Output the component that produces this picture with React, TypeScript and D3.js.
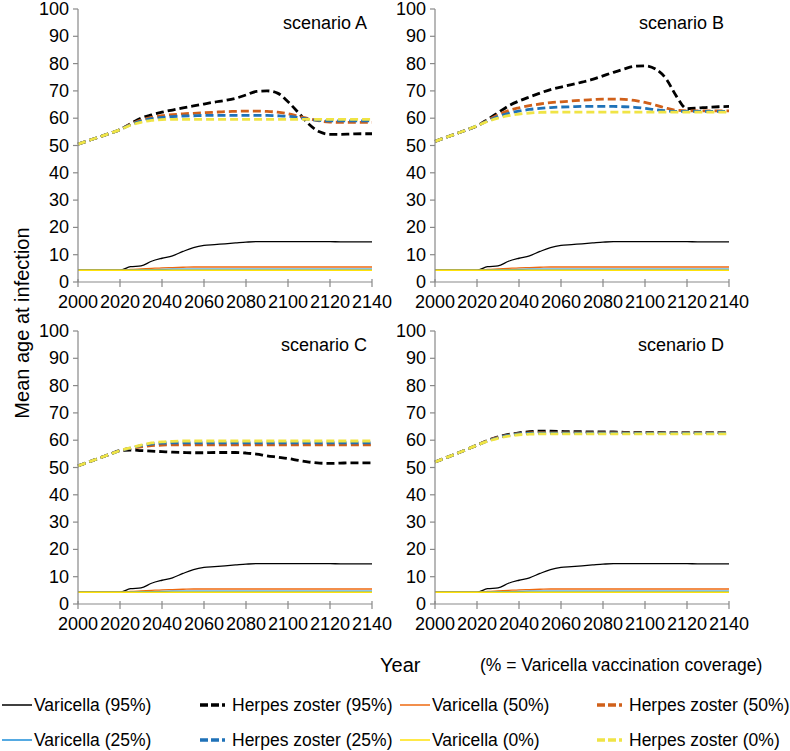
import React from "react";
import * as d3 from "d3";

// ---------- DATA ----------
const years = [2000, 2005, 2010, 2015, 2020, 2025, 2030, 2035, 2040, 2045, 2050, 2055, 2060, 2065, 2070, 2075, 2080, 2085, 2090, 2095, 2100, 2105, 2110, 2115, 2120, 2125, 2130, 2135, 2140];
const xTicks = [2000, 2020, 2040, 2060, 2080, 2100, 2120, 2140];
const yTicks = [0, 10, 20, 30, 40, 50, 60, 70, 80, 90, 100];
const scenarioNames = ["scenario A", "scenario B", "scenario C", "scenario D"];
const seriesNames = ["Varicella (95%)", "Herpes zoster (95%)", "Varicella (50%)", "Herpes zoster (50%)", "Varicella (25%)", "Herpes zoster (25%)", "Varicella (0%)", "Herpes zoster (0%)"];

// Varicella (same in all scenarios)
const varicella95 = [4.3, 4.3, 4.3, 4.3, 4.3, 5.6, 5.9, 7.6, 8.7, 9.6, 11.2, 12.6, 13.4, 13.7, 14.0, 14.3, 14.6, 14.8, 14.8, 14.8, 14.8, 14.8, 14.8, 14.8, 14.8, 14.7, 14.7, 14.7, 14.7];
const varicella50 = [4.3, 4.3, 4.3, 4.3, 4.3, 4.6, 4.8, 5.0, 5.2, 5.3, 5.4, 5.5, 5.5, 5.5, 5.5, 5.5, 5.5, 5.5, 5.5, 5.5, 5.5, 5.5, 5.5, 5.5, 5.5, 5.5, 5.5, 5.5, 5.5];
const varicella25 = [4.3, 4.3, 4.3, 4.3, 4.3, 4.4, 4.5, 4.5, 4.6, 4.7, 4.7, 4.7, 4.7, 4.7, 4.7, 4.7, 4.7, 4.7, 4.7, 4.7, 4.7, 4.7, 4.7, 4.7, 4.7, 4.7, 4.7, 4.7, 4.7];
const varicella0 = [4.3, 4.3, 4.3, 4.3, 4.3, 4.3, 4.3, 4.3, 4.3, 4.3, 4.3, 4.3, 4.3, 4.3, 4.3, 4.3, 4.3, 4.3, 4.3, 4.3, 4.3, 4.3, 4.3, 4.3, 4.3, 4.3, 4.3, 4.3, 4.3];

// Herpes zoster, scenario A
const hzA95 = [50.5, 51.8, 53.1, 54.4, 55.8, 58.0, 60.0, 61.2, 62.2, 63.0, 63.8, 64.5, 65.2, 65.9, 66.5, 67.3, 68.5, 69.8, 70.0, 69.2, 66.0, 62.0, 57.8, 55.0, 54.1, 54.1, 54.2, 54.3, 54.3];
const hzA50 = [50.5, 51.8, 53.1, 54.4, 55.8, 57.8, 59.3, 60.3, 60.9, 61.3, 61.6, 61.8, 62.0, 62.2, 62.4, 62.5, 62.6, 62.6, 62.5, 62.2, 61.6, 60.7, 59.8, 59.0, 58.6, 58.5, 58.5, 58.5, 58.5];
const hzA25 = [50.5, 51.8, 53.1, 54.4, 55.8, 57.6, 58.9, 59.8, 60.3, 60.6, 60.8, 60.9, 61.0, 61.0, 61.0, 61.0, 61.0, 61.0, 61.0, 60.9, 60.7, 60.2, 59.6, 59.2, 59.0, 59.0, 59.0, 59.0, 59.0];
const hzA0 = [50.5, 51.8, 53.1, 54.4, 55.8, 57.4, 58.5, 59.2, 59.5, 59.6, 59.6, 59.6, 59.6, 59.6, 59.6, 59.6, 59.6, 59.6, 59.6, 59.6, 59.6, 59.6, 59.6, 59.6, 59.6, 59.6, 59.6, 59.6, 59.6];

// Herpes zoster, scenario B
const hzB95 = [51.5, 52.9, 54.3, 55.7, 57.2, 59.5, 62.0, 64.5, 66.3, 67.8, 69.2, 70.5, 71.4, 72.3, 73.2, 74.2, 75.5, 76.8, 78.0, 79.0, 79.2, 78.0, 74.5, 68.0, 63.5, 63.7, 64.0, 64.2, 64.3];
const hzB50 = [51.5, 52.9, 54.3, 55.7, 57.2, 59.2, 61.2, 62.8, 63.8, 64.6, 65.2, 65.7, 66.0, 66.3, 66.6, 66.8, 67.0, 67.0, 66.9, 66.5, 65.8, 64.8, 63.7, 62.9, 62.7, 62.7, 62.7, 62.7, 62.7];
const hzB25 = [51.5, 52.9, 54.3, 55.7, 57.2, 59.0, 60.6, 61.8, 62.6, 63.2, 63.6, 63.9, 64.1, 64.2, 64.3, 64.3, 64.3, 64.3, 64.2, 64.0, 63.6, 63.1, 62.7, 62.5, 62.5, 62.5, 62.5, 62.5, 62.5];
const hzB0 = [51.5, 52.9, 54.3, 55.7, 57.2, 58.8, 60.0, 60.9, 61.5, 61.9, 62.1, 62.2, 62.2, 62.2, 62.2, 62.2, 62.2, 62.2, 62.2, 62.2, 62.2, 62.2, 62.2, 62.2, 62.2, 62.2, 62.2, 62.2, 62.2];

// Herpes zoster, scenario C
const hzC95 = [50.6, 52.0, 53.4, 54.8, 56.2, 56.4, 56.2, 56.0, 55.8, 55.6, 55.5, 55.4, 55.4, 55.5, 55.5, 55.5, 55.3, 54.9, 54.3, 53.8, 53.3, 52.6, 52.0, 51.6, 51.5, 51.6, 51.7, 51.7, 51.7];
const hzC50 = [50.6, 52.0, 53.4, 54.8, 56.2, 57.0, 57.6, 58.0, 58.2, 58.3, 58.3, 58.3, 58.3, 58.3, 58.3, 58.3, 58.3, 58.3, 58.3, 58.3, 58.3, 58.3, 58.3, 58.3, 58.3, 58.3, 58.3, 58.3, 58.3];
const hzC25 = [50.6, 52.0, 53.4, 54.8, 56.2, 57.1, 58.0, 58.6, 58.9, 59.0, 59.0, 59.0, 59.0, 59.0, 59.0, 59.0, 59.0, 59.0, 59.0, 59.0, 59.0, 59.0, 59.0, 59.0, 59.0, 59.0, 59.0, 59.0, 59.0];
const hzC0 = [50.6, 52.0, 53.4, 54.8, 56.2, 57.2, 58.2, 59.0, 59.4, 59.6, 59.7, 59.7, 59.7, 59.7, 59.7, 59.7, 59.7, 59.7, 59.7, 59.7, 59.7, 59.7, 59.7, 59.7, 59.7, 59.7, 59.7, 59.7, 59.7];

// Herpes zoster, scenario D
const hzD95 = [52.0, 53.5, 55.0, 56.6, 58.2, 59.9, 61.2, 62.1, 62.7, 63.1, 63.3, 63.3, 63.2, 63.1, 63.1, 63.0, 63.0, 63.0, 62.9, 62.9, 62.9, 62.9, 62.8, 62.8, 62.8, 62.8, 62.8, 62.8, 62.8];
const hzD50 = [52.0, 53.5, 55.0, 56.6, 58.2, 59.8, 61.0, 61.9, 62.4, 62.7, 62.8, 62.7, 62.7, 62.7, 62.7, 62.7, 62.7, 62.7, 62.7, 62.7, 62.7, 62.7, 62.7, 62.7, 62.7, 62.7, 62.7, 62.7, 62.7];
const hzD25 = [52.0, 53.5, 55.0, 56.6, 58.2, 59.7, 60.9, 61.8, 62.3, 62.5, 62.6, 62.6, 62.6, 62.6, 62.6, 62.6, 62.6, 62.6, 62.6, 62.6, 62.6, 62.6, 62.6, 62.6, 62.6, 62.6, 62.6, 62.6, 62.6];
const hzD0 = [52.0, 53.5, 55.0, 56.6, 58.2, 59.6, 60.7, 61.5, 62.0, 62.2, 62.3, 62.3, 62.3, 62.3, 62.3, 62.3, 62.3, 62.3, 62.3, 62.3, 62.3, 62.3, 62.3, 62.3, 62.3, 62.3, 62.3, 62.3, 62.3];

// ---------- STYLE ----------
const FONT = "'Liberation Sans', Arial, Helvetica, sans-serif";
const AXIS = "#898989";
const seriesStyle = [
  { color: "#000000", dashed: false },
  { color: "#000000", dashed: true },
  { color: "#EE6A10", dashed: false },
  { color: "#D0601A", dashed: true },
  { color: "#1D8ED8", dashed: false },
  { color: "#1F72B8", dashed: true },
  { color: "#FFE20A", dashed: false },
  { color: "#F0E445", dashed: true },
];

const panelData = [
  [varicella95, hzA95, varicella50, hzA50, varicella25, hzA25, varicella0, hzA0],
  [varicella95, hzB95, varicella50, hzB50, varicella25, hzB25, varicella0, hzB0],
  [varicella95, hzC95, varicella50, hzC50, varicella25, hzC25, varicella0, hzC0],
  [varicella95, hzD95, varicella50, hzD50, varicella25, hzD25, varicella0, hzD0],
];

const panelBoxes = [
  { x0: 78, x1: 372, y0: 9, y1: 282 },
  { x0: 435, x1: 729, y0: 9, y1: 282 },
  { x0: 78, x1: 372, y0: 331, y1: 604 },
  { x0: 435, x1: 729, y0: 331, y1: 604 },
];

function Panel({ idx }: { idx: number }) {
  const b = panelBoxes[idx];
  const x = d3.scaleLinear().domain([2000, 2140]).range([b.x0, b.x1]);
  const y = d3.scaleLinear().domain([0, 100]).range([b.y1, b.y0]);
  const line = d3
    .line<number>()
    .x((_, i) => x(years[i]))
    .y((v) => y(v))
    .curve(d3.curveMonotoneX);
  return (
    <g>
      {panelData[idx].map((vals, si) => (
        <path
          key={si}
          d={line(vals) || ""}
          fill="none"
          stroke={seriesStyle[si].color}
          strokeWidth={seriesStyle[si].dashed ? 2.8 : 1.3}
          strokeDasharray={seriesStyle[si].dashed ? "8 4" : undefined}
        />
      ))}
      <line x1={b.x0} x2={b.x0} y1={b.y0} y2={b.y1} stroke={AXIS} strokeWidth={1.2} />
      {yTicks.map((t) => (
        <g key={t}>
          <line x1={b.x0 - 5} x2={b.x0} y1={y(t)} y2={y(t)} stroke={AXIS} strokeWidth={1.2} />
          <text x={b.x0 - 9} y={y(t) + 6} textAnchor="end" fontSize={18} fontFamily={FONT} fill="#000">
            {t}
          </text>
        </g>
      ))}
      <line x1={b.x0} x2={b.x1} y1={b.y1} y2={b.y1} stroke={AXIS} strokeWidth={1.2} />
      {xTicks.map((t) => (
        <g key={t}>
          <line x1={x(t)} x2={x(t)} y1={b.y1 - 3} y2={b.y1 + 5} stroke={AXIS} strokeWidth={1.2} />
          <text x={x(t)} y={b.y1 + 26} textAnchor="middle" fontSize={18} fontFamily={FONT} fill="#000">
            {t}
          </text>
        </g>
      ))}
      <text x={b.x1 - 5} y={b.y0 + 20} textAnchor="end" fontSize={18} fontFamily={FONT} fill="#000">
        {scenarioNames[idx]}
      </text>
    </g>
  );
}

const legendCols = [2, 200, 400, 597];
const legendRows = [705, 740];

export default function App() {
  return (
    <svg width={790} height={751} style={{ position: "absolute", left: 0, top: 0, background: "#fff" }}>
      <rect x={0} y={0} width={790} height={751} fill="#fff" />
      {panelBoxes.map((_, i) => (
        <Panel key={i} idx={i} />
      ))}
      <text transform="translate(29,323) rotate(-90)" textAnchor="middle" fontSize={20} fontFamily={FONT} fill="#000">
        Mean age at infection
      </text>
      <text x={380} y={672} fontSize={20} fontFamily={FONT} fill="#000">
        Year
      </text>
      <text x={480} y={671} fontSize={17.5} fontFamily={FONT} fill="#000">
        (% = Varicella vaccination coverage)
      </text>
      {seriesNames.map((name, i) => {
        const col = legendCols[i % 4];
        const row = legendRows[Math.floor(i / 4)];
        const st = seriesStyle[i];
        return (
          <g key={name}>
            <line
              x1={col}
              x2={col + 30}
              y1={row}
              y2={row}
              stroke={st.color}
              strokeWidth={st.dashed ? 3.5 : 1.5}
              strokeDasharray={st.dashed ? "8 3 8 3 3 5" : undefined}
            />
            <text x={col + 32} y={row + 6} fontSize={17.5} fontFamily={FONT} fill="#000">
              {name}
            </text>
          </g>
        );
      })}
    </svg>
  );
}
